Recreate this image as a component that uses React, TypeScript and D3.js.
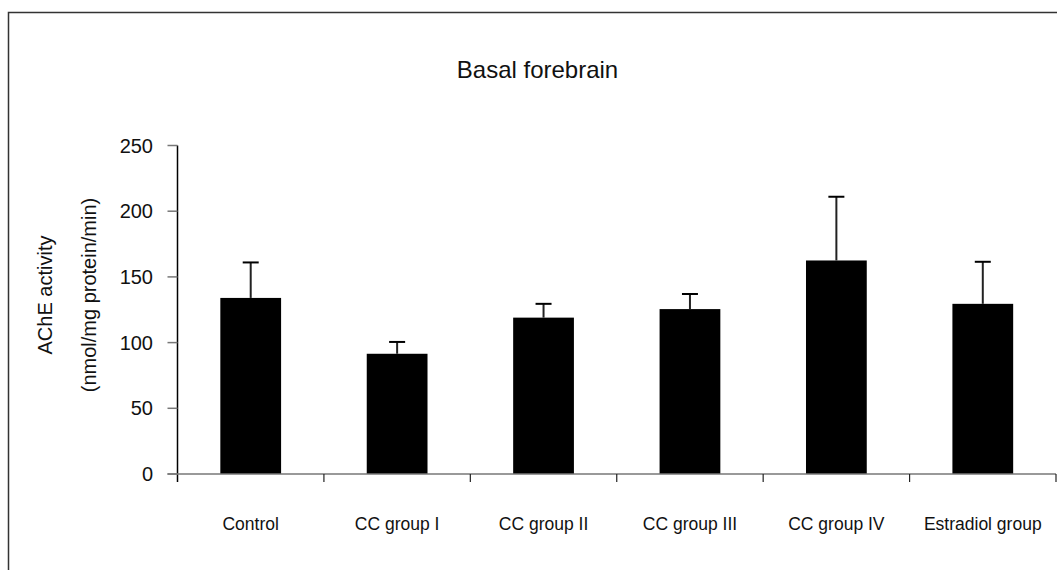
import React, { useEffect, useRef } from "react";
import * as d3 from "d3";

const groups = ["Control", "CC group I", "CC group II", "CC group III", "CC group IV", "Estradiol group"];
const means = [134, 91.5, 119, 125.5, 162.5, 129.5];
const upperErr = [161, 100.5, 129.5, 137, 211, 161.5];
const yTicks = [0, 50, 100, 150, 200, 250];

function App() {
  const width = 1057;
  const height = 570;
  const svgRef = useRef<SVGSVGElement>(null);

  const left = 177.5;
  const right = 1056;
  const top = 145.5;
  const bottom = 474;

  const xScale = d3.scaleBand<string>().domain(groups).range([left, right]).padding(0);
  const yScale = d3.scaleLinear().domain([0, 250]).range([bottom, top]);
  const barW = xScale.bandwidth() * 0.415;
  const font = "'Liberation Sans', Arial, sans-serif";

  useEffect(() => {
    const svg = d3.select(svgRef.current);
    svg.selectAll("*").remove();

    // outer frame (right / bottom edges run off the picture)
    svg.append("rect")
      .attr("x", 8.5).attr("y", 12.5)
      .attr("width", width + 20).attr("height", height + 20)
      .attr("fill", "#fff").attr("stroke", "#333").attr("stroke-width", 1.5);

    svg.append("text")
      .attr("x", 537.5).attr("y", 78)
      .attr("text-anchor", "middle")
      .attr("font-family", font).attr("font-size", 24)
      .attr("fill", "#111")
      .text("Basal forebrain");

    // bars
    svg.selectAll("rect.bar")
      .data(means)
      .join("rect")
      .attr("class", "bar")
      .attr("x", (d, i) => xScale(groups[i])! + xScale.bandwidth() / 2 - barW / 2)
      .attr("y", (d) => yScale(d))
      .attr("width", barW)
      .attr("height", (d) => yScale(0) - yScale(d))
      .attr("fill", "#000");

    // error bars
    const err = svg.append("g");
    upperErr.forEach((u, i) => {
      const cx = xScale(groups[i])! + xScale.bandwidth() / 2;
      err.append("line")
        .attr("x1", cx).attr("x2", cx)
        .attr("y1", yScale(means[i])).attr("y2", yScale(u))
        .attr("stroke", "#222").attr("stroke-width", 2);
      err.append("line")
        .attr("x1", cx - 8).attr("x2", cx + 8)
        .attr("y1", yScale(u)).attr("y2", yScale(u))
        .attr("stroke", "#000").attr("stroke-width", 2);
    });

    // y axis
    const yAxis = svg.append("g");
    yAxis.append("line")
      .attr("x1", left).attr("x2", left)
      .attr("y1", top).attr("y2", bottom + 8)
      .attr("stroke", "#000").attr("stroke-width", 1.5);
    yAxis.selectAll("line.tick")
      .data(yTicks)
      .join("line")
      .attr("class", "tick")
      .attr("x1", left - 10).attr("x2", left)
      .attr("y1", (d) => yScale(d)).attr("y2", (d) => yScale(d))
      .attr("stroke", "#777").attr("stroke-width", 1.5);
    yAxis.selectAll("text")
      .data(yTicks)
      .join("text")
      .attr("x", 153)
      .attr("y", (d) => yScale(d) + 7)
      .attr("text-anchor", "end")
      .attr("font-family", font).attr("font-size", 20)
      .attr("fill", "#111")
      .text((d) => d);

    // x axis
    const xAxis = svg.append("g");
    xAxis.append("line")
      .attr("x1", left - 10).attr("x2", right)
      .attr("y1", bottom).attr("y2", bottom)
      .attr("stroke", "#777").attr("stroke-width", 1.5);
    xAxis.selectAll("line.tick")
      .data(groups.slice(1).concat(["end"]))
      .join("line")
      .attr("class", "tick")
      .attr("x1", (d, i) => (i < groups.length - 1 ? xScale(d)! : right))
      .attr("x2", (d, i) => (i < groups.length - 1 ? xScale(d)! : right))
      .attr("y1", bottom).attr("y2", bottom + 8)
      .attr("stroke", "#222").attr("stroke-width", 1.2);
    xAxis.selectAll("text")
      .data(groups)
      .join("text")
      .attr("x", (d) => xScale(d)! + xScale.bandwidth() / 2)
      .attr("y", 530)
      .attr("text-anchor", "middle")
      .attr("font-family", font).attr("font-size", 17.5)
      .attr("fill", "#111")
      .text((d) => d);

    // y axis title, two lines
    const yc = 295;
    svg.append("text")
      .attr("transform", `translate(52,${yc}) rotate(-90)`)
      .attr("text-anchor", "middle")
      .attr("font-family", font).attr("font-size", 20)
      .attr("fill", "#111")
      .text("AChE activity");
    svg.append("text")
      .attr("transform", `translate(96,${yc}) rotate(-90)`)
      .attr("text-anchor", "middle")
      .attr("font-family", font).attr("font-size", 20)
      .attr("fill", "#111")
      .text("(nmol/mg protein/min)");
  }, []);

  return (
    <svg
      ref={svgRef}
      width={width}
      height={height}
      style={{ position: "absolute", left: 0, top: 0, background: "#fff" }}
    ></svg>
  );
}

export default App;
